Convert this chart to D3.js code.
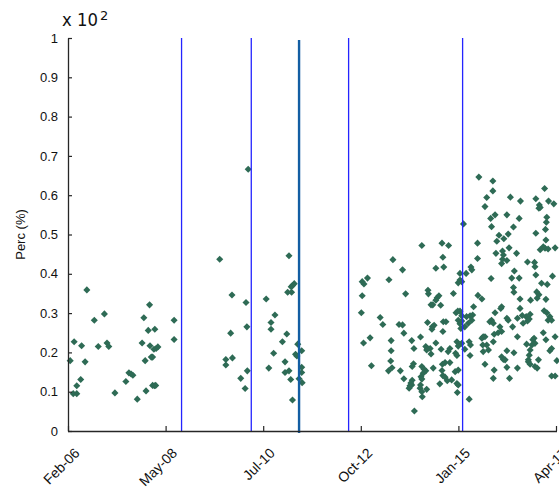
<!DOCTYPE html>
<html>
<head>
<meta charset="utf-8">
<script src="https://cdn.jsdelivr.net/npm/d3@7"></script>
<style>
  body { margin: 0; background: #fff; }
  svg { display: block; font-family: "Liberation Sans", Arial, sans-serif; }
</style>
</head>
<body>
<svg id="chart" width="559" height="495"></svg>
<script>
// Axis definitions
const xDomain = [2006.12, 2017.25];           // decimal years
const xTickLabels = ["Feb-06", "May-08", "Jul-10", "Oct-12", "Jan-15", "Apr-17"];
const yTicks = [0, 0.1, 0.2, 0.3, 0.4, 0.5, 0.6, 0.7, 0.8, 0.9, 1];
const yLabel = "Perc (%)";

// Event markers (decimal years)
const eventYears = [2008.71, 2010.30, 2012.52, 2015.12];
const keyEventYear = 2011.39;

// Observations: [decimal year, value (x 10^2 %)]
const samples2006to2008 = [
  [2006.17,.179],[2006.26,.227],[2006.24,.095],[2006.32,.095],[2006.32,.115],[2006.41,.131],
  [2006.43,.217],[2006.51,.176],[2006.55,.359],[2006.72,.282],[2006.81,.215],[2006.95,.298],
  [2007.01,.224],[2007.05,.215],[2007.19,.097],[2007.44,.126],[2007.51,.148],[2007.56,.145],
  [2007.60,.142],[2007.70,.081],[2007.81,.224],[2007.85,.288],[2007.88,.179],[2007.90,.102],
  [2007.95,.256],[2007.98,.321],[2007.99,.217],[2008.02,.188],[2008.05,.188],[2008.05,.116],
  [2008.09,.115],[2008.12,.116],[2008.08,.208],[2008.13,.210],[2008.17,.214],[2008.10,.259],
  [2008.54,.282],[2008.54,.233]
];
const samples2009to2011 = [
  [2009.58,.437],[2009.86,.346],[2010.18,.327],[2009.83,.249],[2010.20,.265],[2009.72,.182],
  [2009.87,.186],[2009.72,.168],[2010.06,.134],[2010.21,.153],[2010.16,.108],[2010.23,.666],
  [2011.16,.446],[2011.24,.370],[2011.28,.375],[2011.21,.367],[2011.13,.353],[2011.22,.353],
  [2010.64,.336],[2010.84,.295],[2010.75,.276],[2010.75,.259],[2011.11,.247],[2011.01,.227],
  [2010.81,.198],[2011.36,.221],[2011.31,.195],[2011.34,.191],[2011.45,.204],[2011.07,.176],
  [2010.70,.160],[2011.07,.149],[2011.16,.153],[2011.45,.162],[2011.45,.149],[2011.20,.131],
  [2011.39,.133],[2011.46,.123],[2011.24,.079]
];
const samples2012to2014 = [
  [2014.19,.472],[2014.65,.478],[2014.67,.442],[2013.53,.436],[2013.75,.410],[2014.51,.414],
  [2014.69,.417],[2012.83,.380],[2012.87,.374],[2012.95,.389],[2013.44,.385],[2012.83,.344],
  [2013.82,.349],[2014.33,.358],[2014.34,.349],[2014.54,.339],[2014.58,.344],[2014.51,.333],
  [2014.40,.321],[2014.44,.321],[2014.62,.320],[2012.81,.301],[2013.24,.289],[2013.30,.271],
  [2013.67,.271],[2013.75,.270],[2014.32,.276],[2014.43,.265],[2014.47,.269],[2014.42,.259],
  [2014.68,.278],[2013.78,.249],[2014.67,.253],[2014.16,.239],[2013.01,.237],[2012.86,.224],
  [2013.49,.230],[2013.96,.230],[2014.51,.224],[2014.28,.215],[2014.32,.210],[2014.38,.210],
  [2014.30,.206],[2014.01,.210],[2014.63,.208],[2013.49,.204],[2014.40,.196],[2013.48,.178],
  [2014.00,.171],[2013.97,.164],[2014.66,.170],[2013.04,.166],[2013.51,.161],[2014.19,.164],
  [2014.24,.157],[2014.28,.153],[2014.22,.147],[2014.45,.160],[2013.43,.153],[2013.70,.153],
  [2014.65,.154],[2014.17,.138],[2014.19,.132],[2013.97,.129],[2013.94,.122],[2013.78,.133],
  [2014.67,.141],[2014.60,.120],[2014.16,.117],[2014.15,.109],[2013.92,.115],[2013.96,.117],
  [2013.90,.109],[2014.30,.106],[2014.20,.087],[2014.19,.100],[2014.02,.051],[2014.80,.472],
  [2014.91,.350],[2014.97,.301],[2014.74,.278],[2014.99,.227],[2014.83,.210],[2014.79,.202],
  [2014.96,.198],[2014.99,.192],[2014.72,.174],[2014.83,.174],[2014.95,.151],[2014.72,.137],
  [2014.77,.128],[2014.87,.130],[2014.99,.121]
];
const samples2015to2017 = [
  [2015.49,.646],[2015.81,.636],[2015.81,.611],[2016.99,.617],[2015.67,.594],[2016.21,.595],
  [2016.44,.585],[2016.79,.591],[2017.08,.585],[2017.20,.578],[2016.87,.575],[2016.86,.567],
  [2016.89,.569],[2015.63,.571],[2015.86,.550],[2015.76,.541],[2016.13,.550],[2016.41,.541],
  [2017.04,.544],[2017.03,.531],[2017.01,.513],[2015.14,.527],[2015.78,.520],[2016.28,.519],
  [2016.79,.503],[2015.95,.498],[2016.16,.501],[2015.90,.483],[2016.06,.489],[2017.02,.486],
  [2015.46,.478],[2016.18,.466],[2016.96,.469],[2016.89,.461],[2017.00,.465],[2017.07,.463],
  [2017.23,.466],[2015.88,.452],[2016.03,.458],[2016.05,.448],[2016.03,.437],[2016.13,.434],
  [2016.35,.452],[2015.46,.439],[2016.60,.430],[2016.76,.429],[2016.77,.418],[2016.01,.426],
  [2015.31,.417],[2015.33,.410],[2016.30,.407],[2015.06,.401],[2015.20,.401],[2015.06,.384],
  [2015.10,.380],[2015.02,.377],[2015.77,.388],[2016.79,.397],[2017.17,.394],[2016.24,.389],
  [2016.41,.389],[2016.92,.376],[2017.05,.373],[2016.28,.365],[2015.47,.345],[2016.81,.354],
  [2015.56,.336],[2016.29,.353],[2016.86,.347],[2016.82,.338],[2016.43,.336],[2016.67,.333],
  [2017.02,.335],[2015.37,.316],[2016.01,.316],[2015.99,.312],[2016.43,.312],[2015.01,.305],
  [2015.06,.305],[2015.86,.301],[2016.66,.297],[2016.57,.291],[2016.48,.294],[2016.98,.306],
  [2017.04,.301],[2015.35,.295],[2015.29,.293],[2015.21,.291],[2015.10,.293],[2017.11,.291],
  [2017.07,.282],[2017.15,.282],[2015.02,.282],[2015.10,.280],[2015.06,.273],[2015.33,.282],
  [2015.25,.274],[2015.78,.282],[2015.74,.278],[2015.82,.274],[2016.13,.287],[2016.16,.282],
  [2016.37,.287],[2016.50,.274],[2016.60,.280],[2016.64,.285],[2016.26,.265],[2015.97,.265],
  [2016.01,.253],[2015.93,.250],[2015.17,.265],[2015.08,.261],[2016.96,.250],[2015.59,.240],
  [2015.56,.236],[2015.63,.240],[2015.84,.246],[2016.37,.240],[2016.75,.236],[2016.72,.232],
  [2017.23,.240],[2017.02,.232],[2015.82,.227],[2015.10,.223],[2015.02,.216],[2015.27,.227],
  [2015.30,.219],[2016.58,.221],[2016.70,.219],[2016.77,.223],[2015.58,.219],[2015.67,.219],
  [2015.71,.206],[2015.59,.202],[2015.17,.208],[2016.13,.204],[2016.29,.199],[2016.66,.206],
  [2016.64,.193],[2016.62,.181],[2017.15,.210],[2017.11,.204],[2015.29,.192],[2017.27,.179],
  [2016.01,.189],[2016.05,.182],[2016.09,.181],[2016.62,.176],[2016.66,.170],[2016.85,.181],
  [2015.63,.170],[2016.13,.162],[2016.37,.160],[2016.77,.164],[2016.82,.160],[2015.02,.155],
  [2015.84,.155],[2015.82,.134],[2016.19,.134],[2017.15,.140],[2017.23,.140],[2015.02,.117],
  [2015.00,.098],[2015.27,.081]
];

const samples = [].concat(samples2006to2008, samples2009to2011, samples2012to2014, samples2015to2017);

// Layout
const margin = { left: 68, top: 38, right: 3, bottom: 64 };
const svg = d3.select("#chart");

const x = d3.scaleLinear().domain(xDomain).range([margin.left, 556]);
const y = d3.scaleLinear().domain([0, 1]).range([431, margin.top]);

const axisColor = "#262626";

// Tick positions spread evenly across the time span
const xTickValues = xTickLabels.map((_, i) => xDomain[0] + i * (xDomain[1] - xDomain[0]) / (xTickLabels.length - 1));

// Observations
const marker = d3.symbol().type(d3.symbolDiamond2).size(32);
svg.append("g")
  .selectAll("path")
  .data(samples)
  .join("path")
  .attr("d", marker)
  .attr("transform", d => `translate(${x(d[0])},${y(d[1])})`)
  .attr("fill", "#2e6b55");

// Event lines
svg.append("g")
  .selectAll("line")
  .data(eventYears)
  .join("line")
  .attr("x1", d => x(d)).attr("x2", d => x(d))
  .attr("y1", y(1)).attr("y2", y(0))
  .attr("stroke", "#2424ff")
  .attr("stroke-width", 1.3);

svg.append("line")
  .attr("x1", x(keyEventYear)).attr("x2", x(keyEventYear))
  .attr("y1", y(1) + 2).attr("y2", y(0) + 2)
  .attr("stroke", "#135ea3")
  .attr("stroke-width", 2.4);

// X axis
const xAxis = svg.append("g")
  .attr("transform", `translate(0,${y(0)})`)
  .call(d3.axisBottom(x)
    .tickValues(xTickValues)
    .tickFormat((d, i) => xTickLabels[i])
    .tickSizeInner(-5)
    .tickSizeOuter(0)
    .tickPadding(0));
xAxis.select(".domain").attr("stroke", axisColor).attr("stroke-width", 1.3)
  .attr("d", `M${margin.left},0.5H557`);
xAxis.selectAll(".tick line").attr("stroke", axisColor).attr("stroke-width", 1.2);
xAxis.selectAll(".tick text")
  .attr("font-size", 14)
  .attr("fill", "#111")
  .attr("text-anchor", "end")
  .attr("dy", null)
  .attr("transform", "translate(12,23) rotate(-45)")
  .attr("y", 0).attr("x", 0);

// Y axis
const yAxis = svg.append("g")
  .attr("transform", `translate(${margin.left},0)`)
  .call(d3.axisLeft(y)
    .tickValues(yTicks)
    .tickFormat(d => (d === 0 || d === 1) ? d3.format("d")(d) : d3.format(".1f")(d))
    .tickSizeInner(-4)
    .tickSizeOuter(0)
    .tickPadding(10));
yAxis.select(".domain").attr("stroke", axisColor).attr("stroke-width", 1.3);
yAxis.selectAll(".tick line").attr("stroke", axisColor).attr("stroke-width", 1.2);
yAxis.selectAll(".tick text").attr("font-size", 13).attr("fill", "#111");

// Axis title
svg.append("text")
  .attr("transform", `translate(25,${(y(0) + y(1)) / 2}) rotate(-90)`)
  .attr("text-anchor", "middle")
  .attr("font-size", 13)
  .attr("fill", "#111")
  .text(yLabel);

// Exponent note
svg.append("text")
  .attr("x", 62).attr("y", 26)
  .attr("font-size", 17)
  .attr("font-family", "'DejaVu Sans', sans-serif")
  .attr("fill", "#111")
  .attr("textLength", 36)
  .attr("lengthAdjust", "spacingAndGlyphs")
  .text("x 10");
svg.append("text")
  .attr("x", 100).attr("y", 20)
  .attr("font-size", 13)
  .attr("font-family", "'DejaVu Sans', sans-serif")
  .attr("fill", "#111")
  .text("2");
</script>
</body>
</html>
